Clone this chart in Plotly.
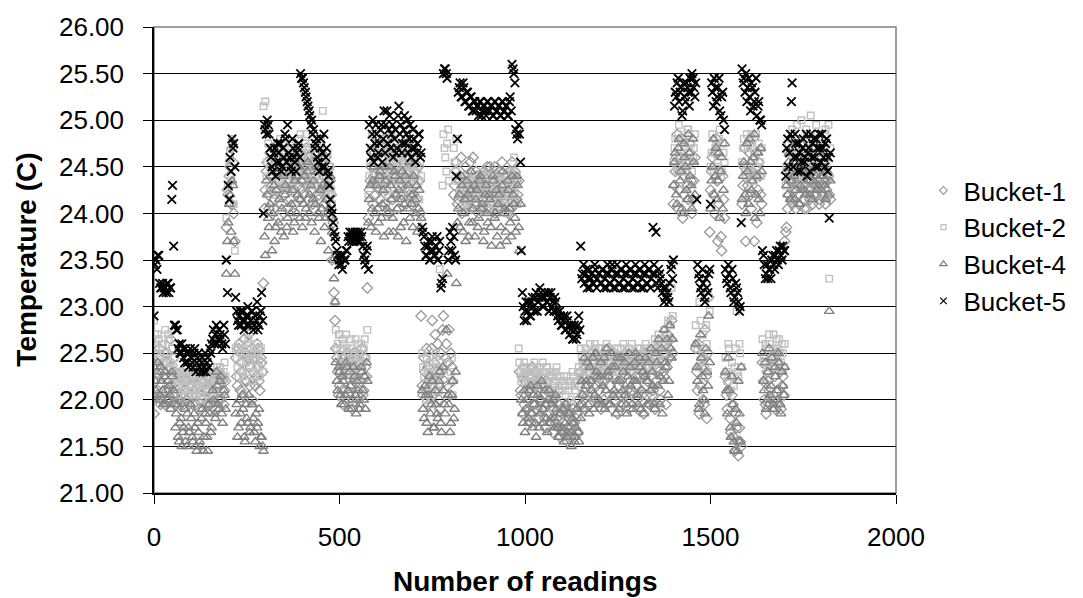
import plotly.graph_objects as go

# Reading numbers: two interleaved sample sets, every 5th reading from 0 and from 3
readings = list(range(0, 1825, 5))
readings_mid = list(range(3, 1825, 5))

# Temperature readings per bucket (C), 20 values per 100 readings
bucket_1 = [
    21.85, 22.35, 22.10, 22.55, 22.00, 22.25, 21.95, 22.40, 22.10, 22.65, 22.05, 22.30, 21.95, 22.15, 22.00, 22.25, 21.95, 22.10, 22.20, 21.95,
    22.15, 21.95, 22.25, 22.05, 21.90, 22.20, 22.00, 22.30, 22.10, 21.95, 22.25, 22.05, 22.20, 21.90, 22.15, 22.30, 22.00, 22.20, 22.10, 23.85,
    24.20, 24.50, 24.70, 24.00, 22.45, 22.15, 22.60, 22.30, 22.05, 22.50, 22.20, 22.70, 22.35, 22.00, 22.45, 22.25, 22.55, 22.10, 22.40, 23.25,
    24.25, 24.55, 24.05, 24.40, 24.70, 24.15, 24.50, 23.95, 24.35, 24.65, 24.20, 24.45, 24.05, 24.60, 24.30, 24.75, 24.10, 24.40, 24.55, 24.25,
    24.60, 24.35, 24.70, 24.15, 24.45, 24.55, 24.05, 24.40, 24.65, 24.20, 24.50, 24.30, 24.10, 24.45, 24.00, 24.35, 23.50, 23.15, 22.55, 22.30,
    22.15, 22.40, 21.95, 22.30, 22.50, 22.05, 22.35, 21.90, 22.20, 22.45, 22.00, 22.30, 22.55, 22.10, 22.35, 23.20, 24.25, 24.50, 24.10, 24.65,
    24.35, 24.70, 24.15, 24.45, 24.80, 24.25, 24.55, 24.00, 24.40, 24.75, 24.20, 24.50, 24.05, 24.60, 24.30, 24.70, 24.10, 24.45, 24.25, 24.55,
    24.20, 24.45, 24.05, 24.35, 22.90, 22.05, 22.30, 22.55, 21.95, 22.20, 22.85, 22.40, 22.10, 22.60, 21.90, 22.30, 22.90, 22.45, 22.15, 22.75,
    22.50, 22.20, 24.30, 24.55, 24.15, 24.40, 24.00, 24.25, 24.50, 24.10, 24.35, 24.05, 24.60, 24.20, 24.40, 24.00, 24.30, 24.15, 24.45, 24.05,
    24.25, 24.50, 24.10, 24.35, 24.00, 24.20, 24.45, 24.05, 24.30, 24.15, 24.40, 24.00, 24.25, 24.55, 24.10, 24.35, 24.20, 22.30, 22.05, 21.85,
    22.20, 21.90, 22.10, 21.75, 22.35, 21.95, 22.15, 21.80, 22.25, 21.90, 22.05, 21.70, 22.20, 21.85, 22.10, 21.65, 22.00, 21.80, 21.95, 21.60,
    21.85, 21.65, 21.95, 21.55, 21.80, 21.70, 21.90, 21.60, 21.85, 22.00, 22.30, 22.05, 21.90, 22.40, 22.15, 21.95, 22.50, 22.25, 22.00, 22.35,
    22.10, 21.90, 22.45, 22.20, 21.95, 22.55, 22.15, 21.90, 22.35, 22.05, 21.85, 22.40, 22.20, 21.95, 22.50, 22.10, 21.90, 22.30, 22.05, 22.45,
    22.15, 21.90, 22.35, 22.05, 21.85, 22.50, 22.20, 21.95, 22.40, 22.10, 21.90, 22.55, 22.30, 22.00, 22.60, 22.25, 21.95, 22.70, 22.45, 22.85,
    24.10, 24.45, 24.85, 24.25, 24.60, 23.95, 24.40, 24.70, 24.15, 24.55, 24.00, 24.35, 22.55, 22.10, 21.85, 22.35, 22.00, 22.75, 21.80, 23.10,
    24.25, 24.60, 24.00, 24.80, 23.70, 24.45, 23.60, 24.15, 22.25, 21.90, 22.10, 21.65, 21.95, 21.45, 21.70, 21.40, 21.55, 24.10, 24.50, 23.70,
    24.30, 24.65, 24.05, 24.80, 24.40, 23.90, 24.55, 24.20, 22.40, 22.00, 21.85, 22.20, 21.95, 22.35, 22.05, 21.90, 22.50, 22.10, 21.90, 22.25,
    23.70, 23.85, 24.20, 24.45, 24.10, 24.35, 24.05, 24.40, 24.20, 24.50, 24.15, 24.30, 24.05, 24.45, 24.25, 24.10, 24.40, 24.20, 24.35, 24.15,
    24.30, 24.45, 24.10, 24.35, 24.20,
]
bucket_1_mid = [
    22.20, 22.05, 22.45, 21.95, 22.30, 22.10, 22.50, 22.00, 22.35, 22.15, 22.45, 22.05, 22.20, 21.95, 22.30, 22.05, 22.20, 22.00, 22.15, 22.25,
    22.05, 22.25, 21.95, 22.15, 22.30, 22.05, 22.20, 21.95, 22.25, 22.10, 21.95, 22.20, 22.05, 22.25, 22.00, 22.15, 22.25, 21.95, 22.20, 24.25,
    24.40, 24.10, 24.55, 23.70, 22.25, 22.55, 22.10, 22.40, 22.65, 22.20, 22.45, 22.15, 22.55, 22.30, 22.15, 22.60, 22.20, 22.45, 22.30, 24.05,
    24.45, 24.20, 24.65, 24.30, 24.05, 24.55, 24.25, 24.60, 24.10, 24.45, 24.30, 24.70, 24.35, 24.15, 24.50, 24.25, 24.65, 24.30, 24.15, 24.50,
    24.20, 24.50, 24.30, 24.60, 24.25, 24.10, 24.55, 24.30, 24.15, 24.60, 24.25, 24.40, 24.60, 24.15, 24.50, 24.20, 23.90, 22.85, 22.45, 22.05,
    22.30, 22.10, 22.45, 22.20, 22.00, 22.40, 22.15, 22.50, 22.25, 22.05, 22.40, 22.20, 22.05, 22.45, 22.25, 23.95, 24.35, 24.65, 24.40, 24.20,
    24.55, 24.25, 24.60, 24.35, 24.10, 24.65, 24.35, 24.55, 24.15, 24.40, 24.65, 24.30, 24.45, 24.20, 24.55, 24.35, 24.60, 24.20, 24.50, 24.35,
    24.45, 24.15, 24.50, 24.00, 22.15, 22.45, 22.10, 22.35, 22.25, 22.55, 22.05, 22.70, 22.30, 22.00, 22.50, 22.75, 22.20, 22.60, 22.40, 22.05,
    22.35, 24.20, 24.45, 24.10, 24.35, 24.60, 24.20, 24.40, 24.15, 24.30, 24.55, 24.25, 24.10, 24.45, 24.20, 24.35, 24.05, 24.40, 24.25, 24.50,
    24.05, 24.35, 24.25, 24.50, 24.15, 24.40, 24.25, 24.55, 24.10, 24.40, 24.20, 24.45, 24.05, 24.30, 24.45, 24.15, 24.35, 22.10, 22.25, 21.95,
    22.05, 22.25, 21.85, 22.15, 21.95, 22.30, 21.90, 22.20, 22.00, 22.15, 21.80, 22.10, 21.95, 22.25, 21.90, 22.05, 21.75, 22.10, 21.70, 21.90,
    21.75, 21.90, 21.70, 21.85, 21.60, 21.95, 21.75, 21.80, 21.65, 22.15, 21.95, 22.25, 22.35, 22.05, 22.30, 22.20, 22.05, 22.40, 22.15, 22.20,
    22.30, 22.20, 22.00, 22.35, 22.25, 22.05, 22.40, 22.25, 22.00, 22.45, 22.15, 22.05, 22.35, 22.25, 22.05, 22.40, 22.20, 22.10, 22.40, 22.25,
    22.00, 22.25, 22.10, 22.45, 22.25, 22.05, 22.35, 22.25, 22.05, 22.45, 22.20, 22.35, 22.10, 22.40, 22.30, 22.50, 22.35, 22.55, 22.65, 22.50,
    24.30, 24.60, 24.05, 24.45, 24.80, 24.20, 24.55, 24.30, 24.75, 24.35, 24.15, 24.60, 22.30, 22.60, 22.15, 22.45, 21.95, 22.25, 22.50, 23.80,
    24.45, 24.20, 24.65, 24.35, 24.10, 23.75, 24.40, 23.95, 22.05, 22.20, 21.80, 22.05, 21.60, 21.85, 21.55, 21.70, 21.50, 24.30, 24.70, 24.20,
    24.50, 24.20, 24.45, 23.70, 24.65, 24.25, 24.40, 24.10, 22.20, 21.95, 22.30, 22.10, 22.45, 22.00, 22.25, 22.40, 21.95, 22.30, 22.15, 22.05,
    23.80, 24.05, 24.35, 24.15, 24.40, 24.25, 24.30, 24.10, 24.45, 24.30, 24.05, 24.40, 24.25, 24.15, 24.35, 24.20, 24.30, 24.45, 24.10, 24.30,
    24.20, 24.35, 24.25, 24.40, 24.15,
]

bucket_2 = [
    22.85, 22.55, 22.70, 22.45, 22.60, 22.40, 22.75, 22.50, 22.65, 22.35, 22.55, 22.45, 22.30, 22.20, 22.25, 22.10, 22.30, 22.15, 22.25, 22.05,
    22.20, 22.10, 22.30, 22.05, 22.25, 22.15, 22.00, 22.20, 22.30, 22.10, 22.25, 22.15, 22.30, 22.20, 22.35, 22.25, 22.30, 22.20, 22.40, 23.95,
    24.30, 24.65, 24.80, 24.10, 22.55, 22.35, 22.60, 22.40, 22.25, 22.50, 22.30, 22.65, 22.45, 22.20, 22.55, 22.35, 22.50, 22.25, 22.40, 25.15,
    25.20, 24.55, 24.30, 24.70, 24.45, 24.20, 24.60, 24.35, 24.80, 24.50, 24.25, 24.65, 24.40, 24.75, 24.55, 24.30, 24.70, 24.45, 24.60, 24.85,
    24.70, 24.45, 24.85, 24.55, 24.35, 24.75, 24.50, 24.30, 24.65, 24.40, 24.80, 25.10, 24.55, 24.35, 24.20, 24.50, 24.10, 23.50, 22.75, 22.60,
    22.70, 22.45, 22.60, 22.35, 22.55, 22.40, 22.65, 22.30, 22.50, 22.40, 22.60, 22.45, 22.35, 22.55, 22.25, 22.75, 24.40, 24.70, 24.35, 24.60,
    24.80, 24.45, 24.65, 24.30, 24.75, 24.50, 24.20, 24.60, 24.85, 24.40, 24.70, 24.35, 24.55, 24.80, 24.45, 24.65, 24.25, 24.70, 24.50, 24.40,
    24.60, 24.30, 24.50, 24.15, 24.40, 22.35, 22.10, 22.45, 22.20, 22.00, 22.35, 22.15, 22.50, 22.25, 23.40, 22.40, 24.85, 24.60, 24.75, 24.35,
    22.30, 22.05, 24.55, 24.80, 24.40, 24.25, 24.35, 24.15, 24.30, 24.05, 24.25, 24.40, 24.20, 24.35, 24.10, 24.30, 24.40, 24.20, 24.35, 24.15,
    24.30, 24.10, 24.40, 24.25, 24.05, 24.35, 24.20, 24.40, 24.15, 24.30, 24.00, 24.35, 24.20, 24.45, 24.60, 24.35, 24.10, 22.40, 22.20, 22.35,
    22.25, 22.35, 22.15, 22.30, 22.20, 22.40, 22.25, 22.10, 22.35, 22.20, 22.30, 22.15, 22.35, 22.25, 22.10, 22.30, 22.20, 22.35, 22.15, 22.25,
    22.10, 22.25, 22.05, 22.20, 22.15, 22.00, 22.25, 22.10, 22.20, 22.35, 22.55, 22.40, 22.25, 22.50, 22.35, 22.60, 22.40, 22.30, 22.55, 22.45,
    22.35, 22.55, 22.40, 22.30, 22.60, 22.45, 22.35, 22.50, 22.40, 22.30, 22.55, 22.45, 22.35, 22.60, 22.40, 22.30, 22.55, 22.45, 22.35, 22.50,
    22.45, 22.35, 22.55, 22.40, 22.30, 22.60, 22.45, 22.35, 22.55, 22.40, 22.65, 22.50, 22.70, 22.45, 22.60, 22.75, 22.55, 22.85, 22.65, 23.20,
    24.55, 24.80, 24.45, 24.95, 24.60, 24.40, 24.75, 24.50, 24.90, 24.65, 24.45, 24.70, 22.80, 22.55, 23.05, 22.40, 22.70, 22.35, 22.60, 23.10,
    24.50, 24.85, 24.40, 24.75, 24.55, 24.90, 24.45, 24.65, 22.45, 22.20, 22.55, 22.10, 23.10, 22.35, 22.95, 22.25, 22.50, 24.55, 24.80, 24.40,
    24.70, 24.45, 24.85, 24.35, 24.60, 24.50, 24.75, 24.40, 22.65, 22.40, 22.55, 22.30, 22.60, 22.45, 22.70, 22.35, 22.55, 22.65, 22.40, 22.50,
    22.60, 24.50, 24.75, 24.40, 24.90, 24.60, 24.45, 24.80, 24.55, 25.00, 24.65, 24.40, 24.85, 24.60, 25.05, 24.70, 24.50, 24.95, 24.65, 24.45,
    24.80, 24.55, 24.90, 24.60, 23.30,
]
bucket_2_mid = [
    22.70, 22.50, 22.65, 22.40, 22.60, 22.50, 22.45, 22.70, 22.40, 22.55, 22.35, 22.25, 22.15, 22.30, 22.20, 22.25, 22.10, 22.30, 22.20, 22.15,
    22.25, 22.05, 22.20, 22.15, 22.30, 22.10, 22.25, 22.15, 22.05, 22.25, 22.20, 22.30, 22.10, 22.25, 22.15, 22.35, 22.20, 22.30, 22.25, 24.25,
    24.55, 24.35, 24.70, 23.60, 22.45, 22.25, 22.50, 22.30, 22.55, 22.40, 22.60, 22.35, 22.50, 22.30, 22.45, 22.60, 22.35, 22.55, 22.30, 24.90,
    24.40, 24.75, 24.50, 24.25, 24.55, 24.35, 24.75, 24.45, 24.30, 24.60, 24.50, 24.35, 24.70, 24.50, 24.40, 24.65, 24.35, 24.80, 24.50, 24.65,
    24.55, 24.75, 24.40, 24.65, 24.50, 24.35, 24.70, 24.45, 24.55, 24.70, 24.45, 24.60, 24.40, 24.65, 24.30, 24.25, 23.85, 23.05, 22.55, 22.70,
    22.55, 22.65, 22.40, 22.70, 22.50, 22.35, 22.55, 22.45, 22.65, 22.35, 22.50, 22.60, 22.40, 22.65, 22.45, 24.20, 24.55, 24.85, 24.50, 24.75,
    24.55, 24.70, 24.40, 24.60, 24.45, 24.80, 24.55, 24.35, 24.65, 24.50, 24.75, 24.45, 24.60, 24.35, 24.75, 24.50, 24.60, 24.35, 24.80, 24.55,
    24.45, 24.65, 24.35, 24.55, 22.50, 22.25, 22.00, 22.30, 22.40, 22.15, 22.45, 22.20, 22.35, 22.10, 22.30, 24.30, 24.70, 24.45, 24.90, 22.20,
    22.45, 24.70, 24.45, 24.35, 24.20, 24.40, 24.25, 24.10, 24.35, 24.20, 24.30, 24.15, 24.40, 24.25, 24.05, 24.35, 24.20, 24.30, 24.10, 24.40,
    24.20, 24.35, 24.15, 24.30, 24.20, 24.40, 24.10, 24.25, 24.35, 24.20, 24.40, 24.15, 24.30, 24.35, 24.20, 24.40, 22.55, 22.30, 22.25, 22.40,
    22.30, 22.20, 22.35, 22.25, 22.30, 22.15, 22.35, 22.30, 22.20, 22.40, 22.25, 22.35, 22.20, 22.30, 22.25, 22.15, 22.30, 22.25, 22.10, 22.20,
    22.20, 22.15, 22.25, 22.10, 22.20, 22.30, 22.15, 22.20, 22.30, 22.25, 22.45, 22.35, 22.55, 22.30, 22.45, 22.35, 22.50, 22.60, 22.35, 22.55,
    22.45, 22.35, 22.50, 22.55, 22.35, 22.40, 22.55, 22.30, 22.50, 22.45, 22.35, 22.55, 22.40, 22.35, 22.50, 22.45, 22.35, 22.60, 22.40, 22.35,
    22.55, 22.45, 22.35, 22.50, 22.55, 22.35, 22.50, 22.45, 22.35, 22.55, 22.45, 22.60, 22.40, 22.65, 22.50, 22.60, 22.70, 22.65, 22.80, 22.90,
    24.70, 24.50, 24.85, 24.55, 24.80, 24.65, 24.45, 24.90, 24.55, 24.75, 24.60, 24.85, 22.60, 22.35, 22.85, 22.50, 22.45, 22.80, 22.30, 22.95,
    24.65, 24.45, 24.70, 24.50, 24.80, 24.40, 24.75, 24.55, 22.30, 22.60, 22.25, 22.40, 22.15, 22.55, 22.30, 22.60, 22.35, 24.70, 24.45, 24.85,
    24.50, 24.75, 24.40, 24.65, 24.85, 24.40, 24.55, 24.70, 22.45, 22.60, 22.35, 22.70, 22.40, 22.55, 22.45, 22.65, 22.40, 22.50, 22.60, 22.35,
    24.30, 24.65, 24.45, 24.80, 24.55, 24.70, 24.95, 24.65, 24.40, 24.75, 24.50, 24.90, 24.70, 24.55, 24.80, 24.45, 24.65, 24.85, 24.55, 24.75,
    24.65, 24.85, 24.50, 24.95, 24.70,
]

bucket_4 = [
    22.35, 22.10, 22.40, 22.05, 22.20, 21.95, 22.30, 22.00, 22.15, 21.90, 22.25, 21.95, 21.85, 21.60, 21.75, 21.50, 21.70, 21.55, 21.85, 21.65,
    21.80, 21.55, 21.70, 21.45, 21.65, 21.50, 21.90, 21.60, 21.75, 21.45, 21.85, 21.70, 22.00, 21.80, 22.15, 21.90, 22.25, 21.75, 22.05, 23.35,
    23.90, 24.20, 24.35, 23.70, 21.85, 21.60, 22.00, 21.75, 21.90, 21.55, 21.80, 22.05, 21.70, 21.95, 21.65, 21.85, 21.75, 21.50, 21.60, 21.45,
    23.55, 24.20, 23.85, 24.40, 24.00, 23.70, 24.25, 23.90, 24.50, 24.05, 23.75, 24.30, 23.95, 24.45, 24.10, 23.80, 24.35, 24.00, 24.50, 24.15,
    23.85, 24.40, 24.05, 24.55, 24.20, 23.90, 24.35, 24.10, 24.45, 23.95, 23.70, 24.30, 23.85, 24.15, 23.60, 24.40, 23.80, 23.30, 22.40, 22.10,
    22.30, 21.95, 22.20, 22.05, 22.35, 21.90, 22.15, 22.00, 22.25, 21.85, 22.10, 21.95, 22.30, 22.00, 21.90, 22.20, 24.15, 23.85, 24.35, 24.00,
    24.30, 23.90, 24.45, 24.10, 23.75, 24.35, 24.00, 24.50, 24.15, 23.80, 24.40, 24.05, 24.25, 23.85, 24.45, 24.10, 23.70, 24.30, 23.95, 24.20,
    24.40, 24.00, 23.80, 24.25, 23.95, 21.90, 22.15, 21.75, 22.05, 21.85, 22.20, 21.70, 21.95, 21.80, 22.30, 21.65, 22.10, 21.85, 23.35, 21.95,
    21.75, 22.20, 21.90, 23.25, 24.05, 23.85, 24.30, 24.00, 23.70, 24.20, 23.90, 24.45, 24.05, 23.75, 24.25, 23.95, 24.40, 24.10, 23.80, 24.30,
    23.90, 24.15, 23.65, 24.35, 24.00, 23.75, 24.20, 23.85, 24.45, 24.05, 23.70, 24.25, 23.90, 24.40, 24.10, 23.80, 24.30, 23.60, 22.00, 21.75,
    21.65, 22.00, 21.80, 22.15, 21.70, 21.95, 21.60, 22.05, 21.85, 22.20, 21.75, 21.95, 21.65, 22.10, 21.80, 22.00, 21.70, 21.90, 21.60, 21.85,
    21.70, 21.55, 21.95, 21.65, 21.85, 21.50, 21.75, 21.60, 21.90, 21.55, 21.80, 22.05, 22.45, 22.20, 21.95, 22.35, 22.10, 21.90, 22.50, 22.25,
    22.00, 22.40, 22.15, 21.90, 22.55, 22.25, 21.95, 22.35, 22.10, 21.85, 22.45, 22.20, 21.95, 22.30, 22.05, 21.85, 22.50, 22.15, 21.90, 22.40,
    22.20, 21.95, 22.35, 22.10, 21.85, 22.45, 22.20, 21.95, 22.55, 22.15, 21.90, 22.40, 22.65, 22.25, 21.85, 22.75, 22.35, 22.05, 22.80, 22.45,
    24.30, 24.65, 24.10, 24.80, 24.45, 24.00, 24.60, 24.25, 24.85, 24.40, 24.05, 24.55, 22.60, 22.20, 21.95, 22.45, 22.10, 21.85, 22.30, 22.90,
    24.05, 24.50, 24.20, 24.70, 24.35, 23.95, 24.60, 24.25, 22.30, 21.85, 22.10, 21.60, 21.95, 21.45, 21.75, 22.20, 21.55, 24.15, 24.55, 24.00,
    24.45, 24.80, 24.25, 24.60, 23.95, 24.40, 24.15, 24.70, 22.50, 22.10, 21.90, 22.30, 22.05, 22.45, 21.95, 22.25, 22.00, 22.40, 21.85, 22.15,
    22.35, 24.30, 24.55, 24.15, 24.70, 24.40, 24.25, 24.60, 24.10, 24.75, 24.45, 24.20, 24.65, 24.35, 24.50, 24.15, 24.70, 24.40, 24.30, 24.60,
    24.25, 24.55, 24.15, 24.45, 22.95,
]
bucket_4_mid = [
    22.20, 22.30, 22.00, 22.35, 22.10, 22.25, 21.95, 22.20, 22.05, 22.30, 22.10, 21.70, 21.95, 21.55, 21.80, 21.65, 21.90, 21.50, 21.70, 21.95,
    21.60, 21.85, 21.50, 21.75, 21.55, 21.80, 21.45, 21.85, 21.60, 21.95, 21.65, 22.10, 21.85, 22.30, 21.95, 22.20, 21.85, 22.10, 21.90, 23.70,
    24.10, 23.80, 24.30, 23.35, 21.95, 21.70, 21.85, 22.05, 21.60, 21.95, 21.75, 21.65, 21.95, 21.80, 21.55, 21.70, 21.90, 21.60, 21.50, 23.75,
    24.35, 23.95, 24.10, 23.60, 24.30, 23.85, 24.45, 24.15, 23.80, 24.40, 24.20, 23.85, 24.55, 24.00, 24.25, 23.90, 24.40, 24.20, 23.95, 24.35,
    24.10, 23.95, 24.45, 24.00, 24.30, 24.15, 23.80, 24.50, 24.00, 24.25, 24.05, 24.45, 23.95, 24.30, 24.05, 23.95, 23.50, 23.05, 22.20, 22.35,
    22.05, 22.25, 21.95, 22.40, 22.10, 22.30, 21.90, 22.35, 22.05, 22.20, 21.90, 22.35, 22.10, 22.25, 22.40, 23.90, 24.30, 24.05, 24.50, 23.80,
    24.05, 24.40, 23.95, 24.25, 24.50, 24.05, 23.80, 24.30, 23.95, 24.45, 24.20, 23.75, 24.35, 24.15, 23.90, 24.40, 24.05, 24.55, 24.10, 23.85,
    24.15, 24.30, 24.05, 23.85, 22.10, 21.80, 22.05, 21.65, 22.25, 21.95, 21.70, 22.10, 21.85, 22.20, 21.75, 22.35, 21.95, 22.75, 22.05, 21.65,
    22.05, 21.80, 22.30, 23.90, 24.20, 24.40, 23.80, 24.15, 24.35, 23.75, 24.25, 23.90, 24.30, 24.15, 23.85, 24.35, 24.05, 23.70, 24.20, 24.00,
    24.20, 23.85, 24.40, 23.95, 24.25, 24.10, 23.65, 24.30, 24.00, 23.80, 24.35, 24.05, 23.75, 24.20, 23.95, 24.40, 23.85, 24.10, 21.85, 22.10,
    21.90, 21.75, 22.10, 21.85, 22.05, 21.75, 22.15, 21.70, 22.00, 21.90, 22.10, 21.80, 22.00, 21.75, 21.95, 21.80, 22.05, 21.70, 21.85, 21.65,
    21.90, 21.75, 21.60, 21.85, 21.65, 21.80, 21.55, 21.70, 21.65, 21.95, 22.20, 21.90, 22.15, 22.40, 21.85, 22.20, 22.45, 22.05, 22.30, 21.95,
    22.25, 21.95, 22.45, 22.10, 22.30, 21.95, 22.50, 22.05, 22.35, 22.20, 21.90, 22.45, 22.10, 22.40, 21.95, 22.25, 22.35, 21.95, 22.20, 22.50,
    22.05, 22.45, 21.90, 22.30, 22.25, 21.95, 22.40, 22.10, 22.30, 21.95, 22.50, 22.15, 21.95, 22.55, 22.20, 22.40, 22.65, 22.20, 22.55, 22.65,
    24.55, 24.20, 24.70, 24.35, 24.05, 24.75, 24.50, 24.15, 24.65, 24.30, 24.80, 24.20, 22.35, 21.90, 22.70, 22.25, 22.00, 22.55, 22.15, 22.40,
    24.35, 24.80, 24.40, 24.15, 24.65, 24.45, 24.05, 24.75, 22.10, 22.45, 21.70, 22.25, 21.55, 21.90, 21.45, 21.85, 22.35, 24.40, 24.20, 24.75,
    24.10, 24.55, 24.35, 24.85, 24.20, 24.65, 24.00, 24.45, 22.20, 22.40, 22.00, 22.55, 22.15, 21.90, 22.35, 22.10, 22.50, 21.95, 22.30, 22.05,
    24.45, 24.20, 24.65, 24.35, 24.55, 24.15, 24.75, 24.45, 24.30, 24.55, 24.25, 24.70, 24.40, 24.20, 24.60, 24.35, 24.50, 24.25, 24.65, 24.40,
    24.40, 24.30, 24.60, 24.20, 24.35,
]

bucket_5 = [
    22.90, 23.50, 23.55, 23.25, 23.20, 23.15, 23.20, 23.25, 23.15, 23.20, 24.30, 22.80, 22.75, 22.55, 22.50, 22.60, 22.45, 22.55, 22.40, 22.50,
    22.45, 22.35, 22.55, 22.40, 22.50, 22.30, 22.45, 22.35, 22.30, 22.45, 22.55, 22.60, 22.75, 22.70, 22.60, 22.75, 22.65, 22.55, 22.70, 23.50,
    24.30, 24.60, 24.80, 24.75, 23.10, 22.85, 22.90, 22.80, 22.95, 22.85, 22.80, 22.90, 22.85, 22.95, 22.80, 22.85, 22.75, 22.90, 23.15, 24.00,
    24.90, 25.00, 24.85, 24.60, 24.45, 24.70, 24.55, 24.65, 24.75, 24.50, 24.60, 24.80, 24.95, 24.60, 24.45, 24.70, 24.55, 24.65, 24.75, 25.50,
    25.45, 25.35, 25.25, 25.15, 25.05, 25.00, 24.90, 24.75, 24.60, 24.45, 24.80, 24.65, 24.50, 24.70, 24.40, 24.15, 24.00, 23.80, 23.70, 23.55,
    23.50, 23.45, 23.55, 23.50, 23.60, 23.70, 23.75, 23.80, 23.70, 23.75, 23.80, 23.70, 23.75, 23.55, 23.45, 23.65, 24.95, 24.60, 25.00, 24.75,
    24.85, 24.65, 24.90, 24.55, 25.10, 24.95, 24.75, 25.05, 24.85, 24.60, 24.90, 24.70, 25.15, 24.95, 24.75, 25.05, 24.85, 24.65, 24.95, 24.70,
    24.80, 24.55, 24.75, 24.85, 24.65, 23.80, 23.65, 23.55, 23.70, 23.60, 23.75, 23.55, 23.65, 23.50, 23.70, 23.25, 25.50, 25.55, 25.45, 23.60,
    23.70, 23.85, 23.55, 24.40, 25.30, 25.40, 25.25, 25.35, 25.20, 25.30, 25.15, 25.25, 25.10, 25.20, 25.15, 25.05, 25.20, 25.10, 25.15, 25.05,
    25.20, 25.10, 25.15, 25.05, 25.20, 25.10, 25.15, 25.05, 25.20, 25.10, 25.15, 25.05, 25.25, 25.60, 25.50, 24.90, 24.80, 24.85, 23.60, 23.00,
    22.95, 22.85, 23.05, 22.90, 23.10, 22.95, 23.15, 23.05, 23.20, 23.10, 23.00, 23.15, 23.05, 22.95, 23.15, 23.05, 23.10, 22.95, 22.85, 22.90,
    22.80, 22.90, 22.75, 22.85, 22.70, 22.80, 22.65, 22.75, 22.70, 22.90, 23.65, 23.35, 23.25, 23.40, 23.30, 23.20, 23.35, 23.25, 23.40, 23.30,
    23.35, 23.25, 23.40, 23.30, 23.20, 23.35, 23.25, 23.45, 23.30, 23.20, 23.35, 23.25, 23.40, 23.30, 23.20, 23.35, 23.25, 23.40, 23.30, 23.20,
    23.35, 23.25, 23.40, 23.30, 23.20, 23.35, 23.25, 23.40, 23.30, 23.85, 23.35, 23.25, 23.40, 23.30, 23.15, 23.05, 23.20, 23.10, 23.25, 23.45,
    23.50, 25.30, 25.40, 25.20, 25.35, 25.10, 25.25, 25.40, 25.30, 25.45, 25.50, 25.35, 25.40, 23.45, 23.30, 23.15, 23.25, 23.05, 23.20, 23.35,
    24.10, 25.30, 25.45, 25.20, 25.35, 25.10, 25.25, 25.00, 23.40, 23.25, 23.35, 23.15, 23.30, 23.10, 23.20, 23.05, 23.00, 25.55, 25.45, 25.50,
    25.35, 25.25, 25.40, 25.15, 25.30, 25.05, 25.20, 25.00, 23.60, 23.45, 23.35, 23.30, 23.40, 23.50, 23.45, 23.55, 23.50, 23.60, 23.55, 23.65,
    23.60, 24.70, 24.50, 24.85, 25.40, 24.60, 24.75, 24.45, 24.65, 24.55, 24.80, 24.60, 24.40, 24.70, 24.85, 24.75, 24.60, 24.80, 24.50, 24.70,
    24.85, 24.60, 24.75, 24.45, 23.95,
]
bucket_5_mid = [
    23.45, 23.40, 23.55, 23.20, 23.25, 23.20, 23.15, 23.25, 23.20, 24.15, 23.65, 22.80, 22.75, 22.60, 22.50, 22.55, 22.40, 22.50, 22.35, 22.55,
    22.40, 22.50, 22.30, 22.45, 22.35, 22.40, 22.30, 22.50, 22.40, 22.35, 22.50, 22.65, 22.60, 22.80, 22.65, 22.70, 22.60, 22.80, 22.60, 23.15,
    24.15, 24.45, 24.70, 24.50, 22.95, 22.80, 22.95, 22.85, 22.75, 22.90, 23.00, 22.80, 22.95, 22.75, 22.90, 23.05, 22.80, 22.95, 22.85, 24.95,
    24.85, 24.95, 24.70, 24.50, 24.65, 24.40, 24.75, 24.55, 24.45, 24.70, 24.85, 24.55, 24.65, 24.50, 24.80, 24.60, 24.45, 24.70, 24.60, 25.45,
    25.40, 25.30, 25.20, 25.10, 24.95, 24.85, 24.70, 24.80, 24.55, 24.70, 24.50, 24.85, 24.60, 24.45, 24.30, 24.05, 23.90, 23.75, 23.60, 23.45,
    23.55, 23.40, 23.50, 23.60, 23.75, 23.80, 23.70, 23.75, 23.80, 23.70, 23.75, 23.80, 23.65, 23.50, 23.60, 23.40, 24.70, 24.85, 24.55, 24.95,
    24.60, 24.75, 24.95, 24.80, 24.65, 25.10, 24.90, 24.70, 24.95, 24.80, 24.65, 25.05, 24.85, 24.65, 24.90, 24.75, 25.00, 24.80, 24.60, 24.90,
    24.70, 24.65, 24.85, 24.60, 23.85, 23.75, 23.55, 23.65, 23.50, 23.70, 23.60, 23.55, 23.75, 23.60, 23.20, 23.30, 25.55, 25.50, 23.50, 23.80,
    23.60, 23.75, 23.50, 24.80, 25.35, 25.25, 25.40, 25.20, 25.30, 25.15, 25.25, 25.10, 25.20, 25.10, 25.15, 25.20, 25.05, 25.15, 25.10, 25.20,
    25.10, 25.15, 25.05, 25.20, 25.10, 25.15, 25.05, 25.20, 25.10, 25.15, 25.05, 25.20, 25.10, 25.55, 25.40, 24.85, 24.95, 24.55, 23.15, 22.85,
    23.05, 22.95, 22.90, 23.05, 23.00, 23.10, 22.95, 23.10, 23.15, 23.00, 23.10, 23.05, 23.15, 23.10, 23.00, 22.95, 23.05, 22.90, 22.95, 22.80,
    22.85, 22.75, 22.90, 22.80, 22.75, 22.65, 22.80, 22.65, 22.80, 22.75, 23.30, 23.45, 23.35, 23.20, 23.40, 23.30, 23.25, 23.45, 23.20, 23.35,
    23.25, 23.40, 23.20, 23.35, 23.45, 23.25, 23.40, 23.20, 23.35, 23.45, 23.25, 23.40, 23.20, 23.35, 23.45, 23.25, 23.40, 23.20, 23.35, 23.45,
    23.25, 23.40, 23.20, 23.35, 23.45, 23.25, 23.40, 23.20, 23.35, 23.45, 23.80, 23.20, 23.35, 23.25, 23.20, 23.10, 23.15, 23.05, 23.40, 23.30,
    25.15, 25.25, 25.45, 25.30, 25.05, 25.40, 25.20, 25.35, 25.15, 25.30, 25.45, 25.25, 24.15, 23.35, 23.20, 23.40, 23.10, 23.30, 23.15, 23.40,
    25.40, 25.15, 25.35, 25.25, 25.45, 25.05, 25.30, 24.90, 23.30, 23.45, 23.20, 23.40, 23.05, 23.25, 23.15, 22.95, 23.90, 25.40, 25.30, 25.20,
    25.45, 25.10, 25.35, 25.20, 25.45, 25.15, 25.00, 24.95, 23.55, 23.30, 23.45, 23.40, 23.30, 23.55, 23.40, 23.60, 23.45, 23.65, 23.50, 23.60,
    24.40, 24.80, 24.65, 25.20, 24.50, 24.85, 24.60, 24.75, 24.45, 24.70, 24.55, 24.85, 24.65, 24.45, 24.60, 24.80, 24.50, 24.70, 24.85, 24.55,
    24.70, 24.50, 24.80, 24.60, 24.65,
]

series_names = ["Bucket-1", "Bucket-2", "Bucket-4", "Bucket-5"]
series_values = [
    (bucket_1, bucket_1_mid),
    (bucket_2, bucket_2_mid),
    (bucket_4, bucket_4_mid),
    (bucket_5, bucket_5_mid),
]
for first, second in series_values:
    assert len(first) == len(readings), len(first)
    assert len(second) == len(readings_mid), len(second)

y_ticks = [21.0, 21.5, 22.0, 22.5, 23.0, 23.5, 24.0, 24.5, 25.0, 25.5, 26.0]
x_ticks = [0, 500, 1000, 1500, 2000]

colors = {"Bucket-1": "#999999", "Bucket-2": "#c0c0c0", "Bucket-4": "#808080", "Bucket-5": "#000000"}
symbols = {"Bucket-1": "diamond-open", "Bucket-2": "square-open",
           "Bucket-4": "triangle-up-open", "Bucket-5": "x-thin"}
plot_sizes = {"Bucket-1": 8, "Bucket-2": 6.5, "Bucket-4": 8.5, "Bucket-5": 8.5}
plot_widths = {"Bucket-1": 1.3, "Bucket-2": 1.4, "Bucket-4": 1.4, "Bucket-5": 1.8}
key_sizes = {"Bucket-1": 6, "Bucket-2": 5, "Bucket-4": 6.5, "Bucket-5": 6.5}

FONT = "Liberation Sans, Arial, sans-serif"

fig = go.Figure()
for name, (first, second) in zip(series_names, series_values):
    fig.add_trace(go.Scatter(
        x=readings + readings_mid, y=first + second, mode="markers", name=name,
        showlegend=False, legendgroup=name,
        marker=dict(symbol=symbols[name], size=plot_sizes[name], color=colors[name],
                    line=dict(width=plot_widths[name], color=colors[name])),
    ))
# Legend keys use smaller markers than the plotted points
for name in series_names:
    fig.add_trace(go.Scatter(
        x=[None], y=[None], mode="markers", name=name, legendgroup=name,
        marker=dict(symbol=symbols[name], size=key_sizes[name], color=colors[name],
                    line=dict(width=1.2, color=colors[name])),
    ))

fig.update_layout(
    width=1083, height=598,
    margin=dict(l=154, r=176, t=25, b=105),
    paper_bgcolor="white", plot_bgcolor="white",
    font=dict(family=FONT, size=26, color="black"),
    showlegend=True,
    legend=dict(
        x=1.037, xanchor="left", y=0.53, yanchor="middle",
        font=dict(family=FONT, size=26, color="black"),
        itemwidth=30, tracegroupgap=0, bgcolor="rgba(0,0,0,0)",
    ),
    shapes=[dict(
        type="rect", xref="paper", yref="paper", x0=0, y0=0, x1=1, y1=1,
        line=dict(color="#808080", width=1.5), layer="below",
    )],
    annotations=[
        dict(text="<b>Number of readings</b>", xref="paper", yref="paper",
             x=0.5, y=-0.19, xanchor="center", yanchor="middle", showarrow=False,
             font=dict(family=FONT, size=28, color="black")),
        dict(text="<b>Temperature (C)</b>", xref="paper", yref="paper",
             x=-0.173, y=0.5, xanchor="center", yanchor="middle", showarrow=False,
             textangle=-90, font=dict(family=FONT, size=28, color="black")),
    ],
)

fig.update_xaxes(
    range=[0, 2000], tickvals=x_ticks, ticktext=[str(v) for v in x_ticks],
    showgrid=False, zeroline=False,
    showline=True, linecolor="#000000", linewidth=1.5,
    ticks="outside", ticklen=9, tickcolor="#000000", tickwidth=1.2,
    ticklabelstandoff=11,
    tickfont=dict(family=FONT, size=26, color="black"),
)
fig.update_yaxes(
    range=[21, 26], tickvals=y_ticks, ticktext=[f"{v:.2f}" for v in y_ticks],
    showgrid=True, gridcolor="#000000", gridwidth=1,
    zeroline=False,
    showline=True, linecolor="#000000", linewidth=1.5,
    ticks="outside", ticklen=9, tickcolor="#000000", tickwidth=1.2,
    ticklabelstandoff=14,
    tickfont=dict(family=FONT, size=26, color="black"),
)

fig.write_html("out.html")
